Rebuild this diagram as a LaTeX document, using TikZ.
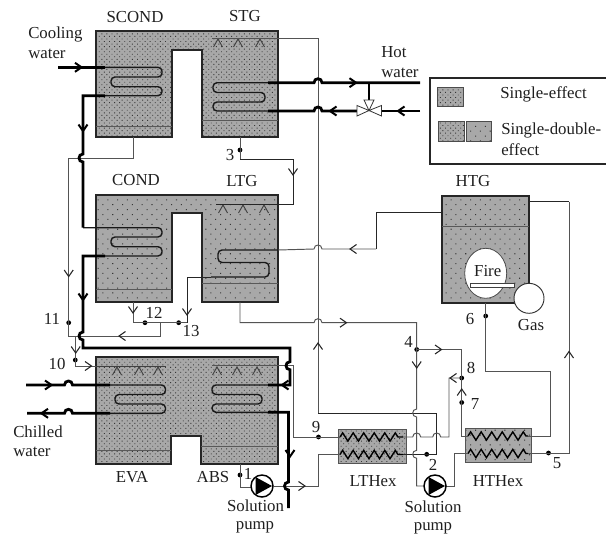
\documentclass[tikz,border=0pt]{standalone}
\usepackage{fontspec}
\setmainfont{Liberation Serif}
\usetikzlibrary{patterns.meta,decorations.pathmorphing,shapes.geometric}
\definecolor{boxgray}{gray}{0.66}
\definecolor{dotgray}{gray}{0.22}
\definecolor{thingray}{gray}{0.33}
\definecolor{txt}{gray}{0.12}
\tikzset{
  x=0.75pt,y=-0.75pt,
  densefill/.style={preaction={fill=boxgray},pattern={Dots[distance=2.7pt,radius=0.48pt,angle=45]},pattern color=dotgray},
  sparsefill/.style={preaction={fill=boxgray},pattern={Dots[distance=5.2pt,radius=0.55pt,angle=45]},pattern color=dotgray},
  vessel/.style={draw=black!85,line width=1.7pt,line join=miter},
  hexbox/.style={draw=thingray,line width=0.7pt},
  level/.style={draw=black!65,line width=0.65pt},
  thin pipe/.style={draw=thingray,line width=0.72pt},
  dark pipe/.style={draw=black!85,line width=0.62pt},
  thick pipe/.style={draw=black,line width=2.1pt},
  coil/.style={draw=black!90,line width=1.05pt,rounded corners=3pt},
  zig/.style={draw=black,line width=1.05pt,decorate,decoration={zigzag,segment length=7.9pt,amplitude=3.1pt}},
  spray/.style={draw=black!75,line width=0.7pt},
  dotnode/.style={circle,fill=black,inner sep=0pt,minimum size=3.6pt},
  lab/.style={font=\fontsize{12.6}{15}\selectfont,text=txt,inner sep=0pt},
  chevthin/.style={draw=black!85,line width=0.8pt,fill=none},
  chevthick/.style={draw=black,line width=1.5pt,fill=none},
}
% hops and bumps on pipes
\newcommand{\hopR}[2]{-- ({#1-4},#2) .. controls ({#1-4},{#2-5.3}) and ({#1+4},{#2-5.3}) .. ({#1+4},#2)}
\newcommand{\hopL}[2]{-- ({#1+4},#2) .. controls ({#1+4},{#2-5.3}) and ({#1-4},{#2-5.3}) .. ({#1-4},#2)}
\newcommand{\bumpD}[2]{-- (#1,{#2-4}) .. controls ({#1-5.3},{#2-4}) and ({#1-5.3},{#2+4}) .. (#1,{#2+4})}
% open arrow heads, given by their tip
\newcommand{\tipR}[3][chevthin]{\draw[#1] ({#2-6.5},{#3-4.5}) -- (#2,#3) -- ({#2-6.5},{#3+4.5});}
\newcommand{\tipL}[3][chevthin]{\draw[#1] ({#2+6.5},{#3-4.5}) -- (#2,#3) -- ({#2+6.5},{#3+4.5});}
\newcommand{\tipU}[3][chevthin]{\draw[#1] ({#2-4.5},{#3+6.5}) -- (#2,#3) -- ({#2+4.5},{#3+6.5});}
\newcommand{\tipD}[3][chevthin]{\draw[#1] ({#2-4.5},{#3-6.5}) -- (#2,#3) -- ({#2+4.5},{#3-6.5});}
\newcommand{\peaks}[4]{\foreach \px in {#1,#2,#3} {\draw[spray] ({\px-4.5},{#4+8}) -- (\px,#4) -- ({\px+4.5},{#4+8});}}
\begin{document}
\begin{tikzpicture}
\useasboundingbox (0,0) rectangle (606,543);
\fill[white] (0,0) rectangle (606,543);

% ---------- vessels
\path[vessel,densefill] (96,31) -- (278,31) -- (278,137) -- (202,137) -- (202,50) -- (172,50) -- (172,137) -- (96,137) -- cycle;
\path[vessel,sparsefill] (96,195) -- (278,195) -- (278,302) -- (202,302) -- (202,213) -- (172,213) -- (172,302) -- (96,302) -- cycle;
\path[vessel,densefill] (96,357) -- (278,357) -- (278,464) -- (201,464) -- (201,436) -- (171,436) -- (171,464) -- (96,464) -- cycle;
\path[vessel,sparsefill] (442,196) rectangle (529,303);
\path[hexbox,densefill] (338,429.5) rectangle (406,463.5);
\path[hexbox,sparsefill] (465.5,428) rectangle (531,462.5);

% liquid levels
\draw[level] (96,126.5) -- (172,126.5);
\draw[level] (202,120) -- (278,120);
\draw[level] (96,289) -- (172,289);
\draw[level] (202,283) -- (278,283);
\draw[level] (96,450) -- (171,450);
\draw[level] (201,446) -- (278,446);
\draw[level] (442,226) -- (529,226);

% spray peaks
\peaks{218}{238}{260}{39}
\peaks{223}{243}{264}{205}
\peaks{117}{139}{158}{367}
\peaks{217}{237}{257}{367}

% ---------- coils
\draw[coil] (105,67.3) -- (162,67.3) -- (162,77) -- (111,77) -- (111,86.7) -- (162,86.7) -- (162,95.7) -- (105,95.7);
\draw[coil] (268,82.7) -- (213,82.7) -- (213,92.5) -- (265,92.5) -- (265,102) -- (213,102) -- (213,111) -- (268,111);
\draw[coil] (83,227.7) -- (162,227.7) -- (162,237) -- (111,237) -- (111,246.7) -- (162,246.7) -- (162,256) -- (105,256);
\draw[coil] (110,385) -- (165.5,385) -- (165.5,394.5) -- (115,394.5) -- (115,404) -- (165.5,404) -- (165.5,413.3) -- (110,413.3);
\draw[coil] (268,385) -- (212,385) -- (212,394.5) -- (262,394.5) -- (262,404) -- (212,404) -- (212,412.3) -- (268,412.3);
\draw[coil] (278,250) -- (218,250) -- (218,262.5) -- (269,262.5) -- (269,277) -- (211,277);

% ---------- zigzag exchangers
\draw[zig] (340,437) -- (403,437);
\draw[zig] (340,454.5) -- (403,454.5);
\draw[zig] (468,436) -- (528,436);
\draw[zig] (468,453.5) -- (528,453.5);

% ---------- marked state points
\node[dotnode] (d1) at (240,475) {};
\node[dotnode] (d2) at (426.7,454.3) {};
\node[dotnode] (d3) at (240,150) {};
\node[dotnode] (d4) at (416.7,349.5) {};
\node[dotnode] (d5) at (548.5,453) {};
\node[dotnode] (d6) at (485.7,316) {};
\node[dotnode] (d7) at (461.7,402.5) {};
\node[dotnode] (d8) at (461.7,378) {};
\node[dotnode] (d9) at (318.5,437) {};
\node[dotnode] (d10) at (75.3,360) {};
\node[dotnode] (d11) at (68.7,322.7) {};
\node[dotnode] (d12) at (145,322.7) {};
\node[dotnode] (d13) at (178.7,322.7) {};

% ---------- thin pipes
\draw[thin pipe] (212,38.5) -- (318,38.5) -- (318,413);
\draw[dark pipe] (318,413) -- (436.7,413) -- (436.7,454.3) -- (403,454.3);
\draw[thin pipe] (133,137) -- (133,158) -- (68.7,158) -- (68.7,336) -- (160,336) -- (160,322.7);
\draw[thin pipe] (133,302) -- (133,322.7) -- (187,322.7);
\draw[dark pipe] (211,277) -- (187,277) -- (187,322.7);
\draw[thin pipe] (75.7,336) -- (75.7,366) -- (96,366);
\draw[spray] (96,366) -- (165.5,366);
\draw[thin pipe] (240,137) -- (240,159);
\draw[dark pipe] (240,159) -- (293,159) -- (293,204) -- (216,204);
\draw[thin pipe] (212,365.7) -- (293,365.7) -- (293,437) -- (340,437);
\draw[thin pipe] (240,464) -- (240,487) -- (251,487);
\draw[thin pipe] (274,486) -- (318,486) -- (318,454.5) -- (340,454.5);
\draw[thin pipe] (240,302) -- (240,322.7) \hopR{318}{322.7} -- (416.7,322.7) -- (416.7,349.5) \bumpD{416.7}{413} \bumpD{416.7}{454.3} -- (416.7,486) -- (424,486);
\draw[thin pipe] (416.7,349.5) -- (461.7,349.5) -- (461.7,378);
\draw[thin pipe] (403,437) \hopR{416.7}{437} \hopR{436.7}{437} -- (449,437) -- (449,378) -- (461.7,378);
\draw[thin pipe] (528,436) -- (550,436) -- (550,371.7) -- (485.7,371.7) -- (485.7,303);
\draw[thin pipe] (468,436) -- (461.7,436) -- (461.7,378);
\draw[thin pipe] (446,486) -- (454,486) -- (454,453.5) -- (468,453.5);
\draw[thin pipe] (528,453.5) -- (569,453.5) -- (569,201.7);
\draw[dark pipe] (569,201.7) -- (530,201.7);
\draw[dark pipe] (442,212) -- (376,212) -- (376,249);
\draw[thin pipe] (376,249) \hopL{318}{249} -- (278,250);

% ---------- thick water pipes
\draw[thick pipe] (58,67.3) -- (105,67.3);
\draw[thick pipe] (105,95.7) -- (83,95.7) \bumpD{83}{158} -- (83,227.7);
\draw[thick pipe] (105,256) -- (83,256) \bumpD{83}{336} -- (83,348) -- (290,348) \bumpD{290}{365.7} -- (290,385) -- (268,385);
\draw[thick pipe] (268,412.3) -- (288.5,412.3) \bumpD{288.5}{486} -- (288.5,508);
\draw[thick pipe] (268,82.7) \hopR{318}{82.7} -- (420,82.7);
\draw[thick pipe] (420,111) -- (381,111);
\draw[thick pipe] (357,111) \hopL{318}{111} -- (268,111);
\draw[thick pipe] (369,82.7) -- (369,100);
\draw[thick pipe] (26,385) \hopR{68.5}{385} -- (110,385);
\draw[thick pipe] (110,413.3) \hopL{68.5}{413.3} -- (27,413.3);

% ---------- three-way valve
\coordinate (vc) at (369,110.5);
\draw[black!80,fill=white,line width=0.6pt] (vc) -- (357,105.5) -- (357,116) -- cycle;
\draw[black!80,fill=white,line width=0.6pt] (vc) -- (381.5,105.5) -- (381.5,116) -- cycle;
\draw[black!80,fill=white,line width=0.6pt] (vc) -- (364,100) -- (374,100) -- cycle;

% ---------- arrow heads
\tipR[chevthick]{81.5}{67.3}
\tipD[chevthick]{83}{131}
\tipD[chevthick]{83}{300}
\tipL[chevthick]{282}{385}
\tipD[chevthick]{290}{456.5}
\tipR[chevthick]{356}{82.7}
\tipL[chevthick]{330}{111}
\tipL[chevthick]{398}{111}
\tipR[chevthick]{51.5}{385}
\tipL[chevthick]{41.5}{413.3}
\tipD{293}{175}
\tipD{68.7}{276.5}
\tipD{133}{313}
\tipD{187}{315}
\tipL{119}{336}
\tipD{75.7}{353}
\tipR{91.5}{366}
\tipL{350}{249}
\tipR{346.5}{322.7}
\tipU{318}{343}
\tipR{441.5}{349.5}
\tipD{416.7}{368}
\tipU{569}{351.5}
\tipL{450}{378}
\tipU{461.7}{389}
\tipR{305}{486}

% ---------- pumps
\node[circle,draw=black,line width=1.1pt,fill=white,inner sep=0pt,minimum size=16.5pt] (pumpa) at (262,486) {};
\node[circle,draw=black,line width=1.1pt,fill=white,inner sep=0pt,minimum size=16.5pt] (pumpb) at (435,486) {};
\fill[black] (255.5,477) -- (255.5,495) -- (272,486) -- cycle;
\fill[black] (428.5,477) -- (428.5,495) -- (445,486) -- cycle;

% ---------- burner
\node[ellipse,draw=black!70,line width=0.6pt,fill=white,inner sep=0pt,minimum width=31.5pt,minimum height=37.5pt] (fire) at (485.7,273.3) {};
\node[draw=black!75,line width=0.7pt,fill=white,inner sep=0pt,minimum width=32.5pt,minimum height=3pt] (burner) at (492.5,285.3) {};
\node[circle,draw=black!80,line width=0.7pt,fill=white,inner sep=0pt,minimum size=22.5pt] (gas) at (529,298.3) {};

% ---------- legend
\draw[black!85,line width=1.2pt] (606,78) -- (430,78) -- (430,163.7) -- (606,163.7);
\path[hexbox,densefill,draw=black!70] (437.5,87) rectangle (463,106.5);
\path[hexbox,densefill,draw=black!70] (438.5,121) rectangle (464,141);
\path[hexbox,sparsefill,draw=black!70] (466.5,121.5) rectangle (491,141);

% ---------- labels
\node[lab] (lscond) at (135,17) {SCOND};
\node[lab] (lstg) at (245,16) {STG};
\node[lab,anchor=west] (lcool) at (28,34) {Cooling};
\node[lab,anchor=west] (lcoolb) at (28,54) {water};
\node[lab] (lcond) at (136,180) {COND};
\node[lab] (lltg) at (242,181) {LTG};
\node[lab,anchor=west] (lhot) at (381,52) {Hot};
\node[lab,anchor=west] (lhotb) at (381,73) {water};
\node[lab] (lhtg) at (473,181) {HTG};
\node[lab] (lfire) at (487.7,270.7) {Fire};
\node[lab] (lgas) at (531,325) {Gas};
\node[lab] (l6) at (470,319) {6};
\node[lab] (l4) at (408.5,342) {4};
\node[lab] (l8) at (471,368) {8};
\node[lab] (l7) at (475,404) {7};
\node[lab] (l5) at (557,463) {5};
\node[lab] (l2) at (433,465) {2};
\node[lab] (l9) at (316,427) {9};
\node[lab] (l1) at (248,474) {1};
\node[lab] (l3) at (230,155) {3};
\node[lab] (l11) at (52,319) {11};
\node[lab] (l12) at (154,313) {12};
\node[lab] (l13) at (191,331) {13};
\node[lab] (l10) at (57,364) {10};
\node[lab,anchor=west] (lchill) at (13,432) {Chilled};
\node[lab,anchor=west] (lchillb) at (13,452) {water};
\node[lab] (leva) at (132,477) {EVA};
\node[lab] (labs) at (213,477) {ABS};
\node[lab] (lsola) at (255.5,506) {Solution};
\node[lab] (lpuma) at (255,527) {pump};
\node[lab] (llt) at (373,481.5) {LTHex};
\node[lab] (lht) at (498,481.5) {HTHex};
\node[lab] (lsolb) at (433,507) {Solution};
\node[lab] (lpumb) at (433,528) {pump};
\node[lab,anchor=west] (lse) at (500,94) {Single-effect};
\node[lab,anchor=west] (lsd) at (501,130) {Single-double-};
\node[lab,anchor=west] (lsdb) at (501,150) {effect};
\end{tikzpicture}
\end{document}
